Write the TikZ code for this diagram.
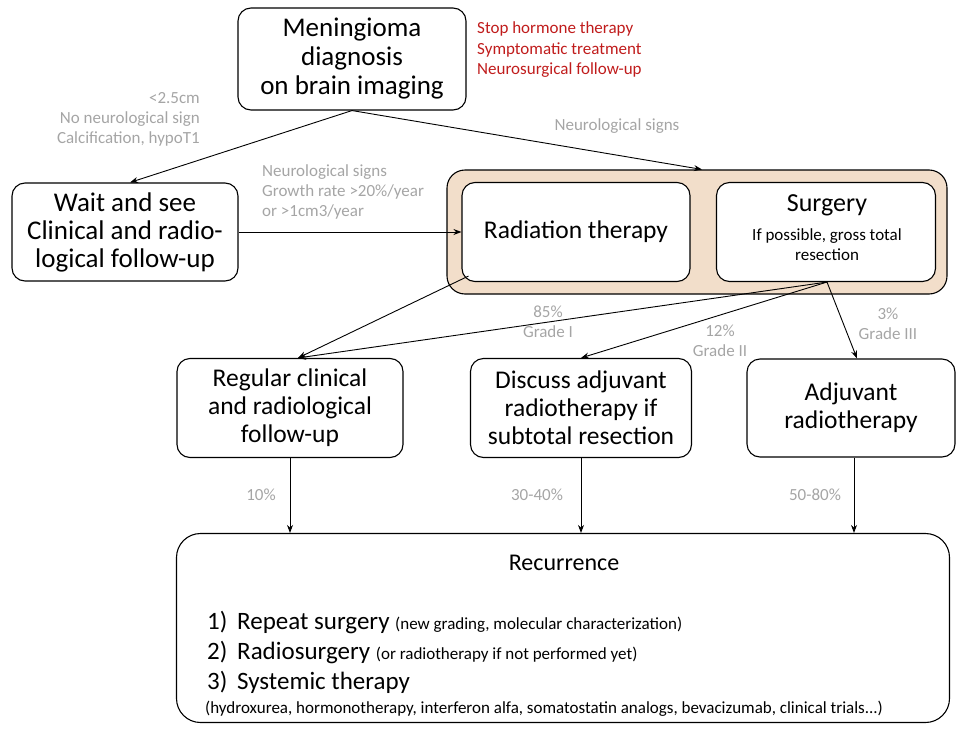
\documentclass[tikz,border=0pt]{standalone}
\usepackage{fontspec}
\setmainfont{Carlito}
\usetikzlibrary{arrows.meta}

\begin{document}
\begin{tikzpicture}[x=1pt,y=-1pt]
% Define colors
\definecolor{groupfill}{RGB}{242,222,202}
\definecolor{notegray}{RGB}{165,165,165}
\definecolor{notered}{RGB}{192,28,28}
\tikzset{
  box/.style={draw,line width=1.1pt,rounded corners=13pt,fill=white,align=center,inner sep=0pt,font=\fontsize{25.5}{28}\selectfont},
  note/.style={text=notegray,inner sep=0pt,font=\fontsize{17}{20}\selectfont},
  arr/.style={-{Stealth[length=8pt,width=6pt]},line width=0.9pt},
  item/.style={anchor=base west,inner sep=0pt,font=\fontsize{25}{28}\selectfont}
}
\useasboundingbox (0,0) rectangle (962,731);

% Draw diagnosis and waiting
\node[box,font=\fontsize{27}{29}\selectfont,minimum width=228pt,minimum height=102pt] (diag) at (352,59) {Meningioma\\diagnosis\\on brain imaging};
\node[anchor=west,align=left,inner sep=0pt,text=notered,font=\fontsize{17}{20.5}\selectfont] (advice) at (477,50) {Stop hormone therapy\\Symptomatic treatment\\Neurosurgical follow-up};
\node[box,font=\fontsize{27}{28}\selectfont,minimum width=226pt,minimum height=98pt] (wait) at (125,232) {Wait and see\\Clinical and radio-\\logical follow-up};

% Draw treatment group
\node[draw,line width=1.1pt,rounded corners=18pt,fill=groupfill,minimum width=500pt,minimum height=124pt] (group) at (697,232) {};
\node[box,minimum width=228pt,minimum height=99pt] (rad) at (576,232) {Radiation therapy};
\node[box,minimum width=219pt,minimum height=99pt] (surg) at (826,232) {};
\node[inner sep=0pt,font=\fontsize{26}{28}\selectfont] (surgtitle) at (827,205) {Surgery};
\node[align=center,inner sep=0pt,font=\fontsize{17}{20}\selectfont] (surgnote) at (827,245) {If possible, gross total\\resection};

% Draw outcome boxes
\node[box,minimum width=226pt,minimum height=99pt] (reg) at (290,408) {Regular clinical\\and radiological\\follow-up};
\node[box,minimum width=221pt,minimum height=99pt] (disc) at (581,408) {Discuss adjuvant\\radiotherapy if\\subtotal resection};
\node[box,minimum width=208pt,minimum height=98pt] (adj) at (851,408) {Adjuvant\\radiotherapy};

% Draw recurrence box
\node[box,rounded corners=24pt,minimum width=773pt,minimum height=189pt] (rec) at (563,628) {};
\node[inner sep=0pt,font=\fontsize{24}{26}\selectfont] (rectitle) at (564,563) {Recurrence};
\node[item] (rec1) at (207,629) {\makebox[30pt][l]{1)}Repeat surgery {\fontsize{17}{19}\selectfont (new grading, molecular characterization)}};
\node[item] (rec2) at (207,659) {\makebox[30pt][l]{2)}Radiosurgery {\fontsize{17}{19}\selectfont (or radiotherapy if not performed yet)}};
\node[item] (rec3) at (207,689) {\makebox[30pt][l]{3)}Systemic therapy};
\node[anchor=base west,inner sep=0pt,font=\fontsize{17}{19}\selectfont] (recnote) at (205,713) {(hydroxurea, hormonotherapy, interferon alfa, somatostatin analogs, bevacizumab, clinical trials...)};

% Add conditions
\node[note,anchor=east,align=right] (smallnote) at (200,119) {<2.5cm\\No neurological sign\\Calcification, hypoT1};
\node[note] (signnote) at (617,126) {Neurological signs};
\node[note,anchor=north west,align=left] (growthnote) at (262,164) {Neurological signs\\Growth rate >20\%/year\\or >1cm3/year};

% Draw connectors
\draw[arr] (diag.south) -- ([xshift=5pt]wait.north);
\draw[arr] (diag.south) -- ([xshift=5pt]group.north);
\draw[arr] (wait.east) -- (wait.east -| rad.west);
\draw[arr] ([xshift=7pt,yshift=6pt]rad.south west) -- ([xshift=8pt]reg.north);
\draw[arr] ([xshift=1pt]surg.south) -- ([xshift=8pt]reg.north);
\draw[arr] ([xshift=1pt]surg.south) -- (disc.north);
\draw[arr] ([xshift=1pt]surg.south) -- ([xshift=6pt]adj.north);
\draw[arr] (reg.south) -- (reg.south |- rec.north);
\draw[arr] (disc.south) -- (disc.south |- rec.north);
\draw[arr] ([xshift=3pt]adj.south) -- ([xshift=3pt]adj.south |- rec.north);

% Add percentages
\node[note,align=center] (gradeone) at (548,322) {85\%\\Grade I};
\node[note,align=center] (gradetwo) at (720,341) {12\%\\Grade II};
\node[note,align=center] (gradethree) at (888,324) {3\%\\Grade III};
\node[note] (pctreg) at (261,495) {10\%};
\node[note] (pctdisc) at (537,495) {30-40\%};
\node[note] (pctadj) at (815,495) {50-80\%};
\end{tikzpicture}
\end{document}
